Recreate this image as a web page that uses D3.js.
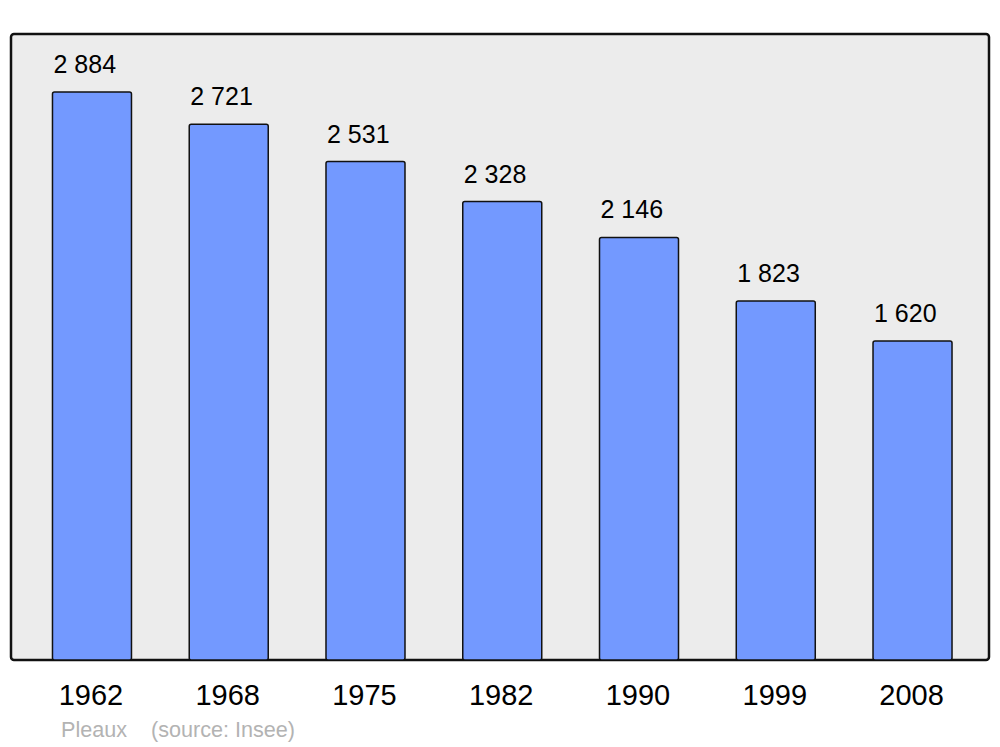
<!DOCTYPE html>
<html lang="fr">
<head>
<meta charset="utf-8">
<title>Pleaux - population</title>
<script src="https://d3js.org/d3.v7.min.js"></script>
<style>
  body { margin: 0; background: #fff; }
  svg text { font-family: "Liberation Sans", Arial, sans-serif; }
</style>
</head>
<body>
<svg id="chart" width="1000" height="747"></svg>
<script>
// data
var years = ["1962", "1968", "1975", "1982", "1990", "1999", "2008"];
var population = [2884, 2721, 2531, 2328, 2146, 1823, 1620];
var commune = "Pleaux";
var source = "(source: Insee)";

var svg = d3.select("#chart");
var frame = {left: 11, right: 989, top: 34, bottom: 660};

var x = d3.scaleBand().domain(years).range([23.6, 980.9]).padding(0);
var barW = 79;
var y = d3.scaleLinear().domain([0, 3179]).range([frame.bottom, frame.top]);

function fmt(v) {
  return d3.format(",")(v).replace(/,/g, " ");
}

svg.append("rect")
  .attr("x", frame.left).attr("y", frame.top)
  .attr("width", frame.right - frame.left)
  .attr("height", frame.bottom - frame.top)
  .attr("rx", 3)
  .attr("fill", "#ececec")
  .attr("stroke", "#111")
  .attr("stroke-width", 2.5);

var data = years.map(function(d, i) { return {year: d, value: population[i]}; });

function barX(d) { return x(d.year) + (x.bandwidth() - barW) / 2; }

svg.selectAll(".bar")
  .data(data)
  .enter().append("rect")
    .attr("class", "bar")
    .attr("x", barX)
    .attr("y", function(d) { return y(d.value); })
    .attr("width", barW)
    .attr("height", function(d) { return frame.bottom - y(d.value); })
    .attr("rx", 2)
    .attr("fill", "#7399ff")
    .attr("stroke", "#111")
    .attr("stroke-width", 1.5);

svg.selectAll(".val")
  .data(data)
  .enter().append("text")
    .attr("class", "val")
    .attr("x", function(d) { return barX(d) + 1; })
    .attr("y", function(d) { return y(d.value) - 19; })
    .attr("font-size", 25)
    .attr("fill", "#000")
    .text(function(d) { return fmt(d.value); });

svg.selectAll(".year")
  .data(years)
  .enter().append("text")
    .attr("class", "year")
    .attr("x", function(d) { return x(d) + x.bandwidth() / 2 - 1; })
    .attr("y", 705)
    .attr("text-anchor", "middle")
    .attr("font-size", 29)
    .attr("fill", "#000")
    .text(function(d) { return d; });

svg.append("text")
  .attr("x", 61).attr("y", 737)
  .attr("font-size", 21.6)
  .attr("fill", "#b3b3b3")
  .text(commune);

svg.append("text")
  .attr("x", 151).attr("y", 737)
  .attr("font-size", 21.6)
  .attr("fill", "#b3b3b3")
  .text(source);
</script>
</body>
</html>
